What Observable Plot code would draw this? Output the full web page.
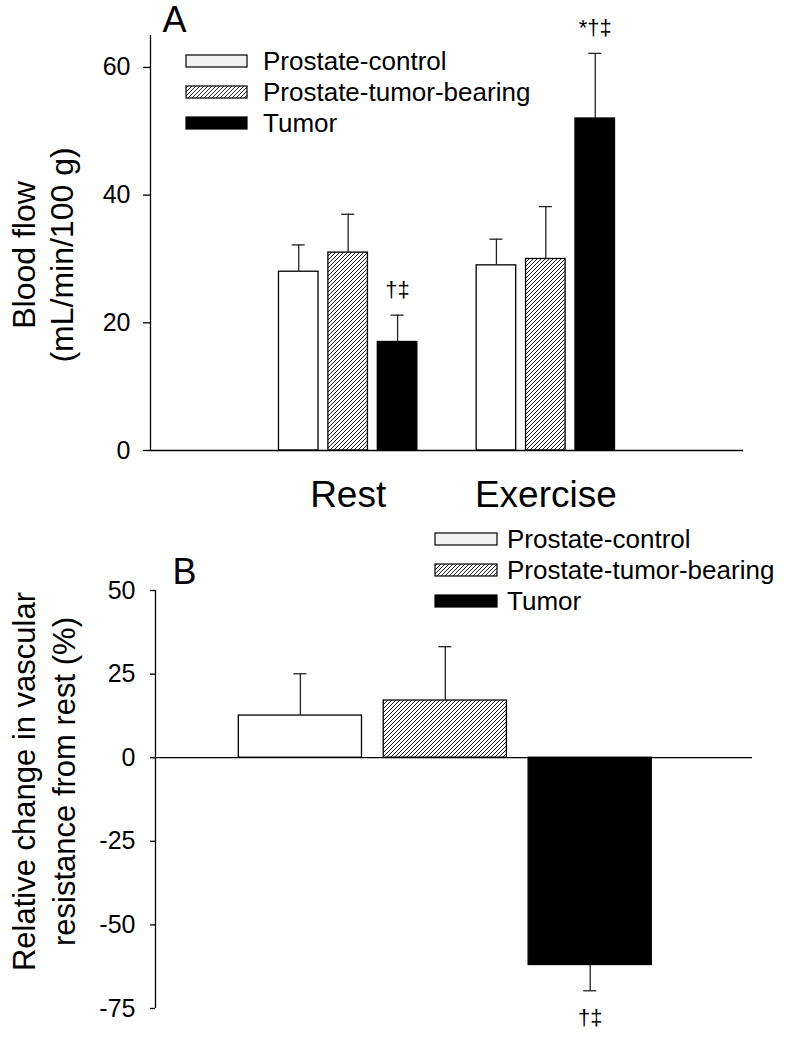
<!DOCTYPE html>
<html><head><meta charset="utf-8">
<script src="https://cdn.jsdelivr.net/npm/d3@7"></script>
<script src="https://cdn.jsdelivr.net/npm/@observablehq/plot@0.6"></script>
<style>
body{margin:0;background:#fff;}
#page{position:relative;width:790px;height:1041px;font-family:"Liberation Sans",Arial,sans-serif;overflow:hidden;background:#fff}
.panel{position:absolute;left:0}
.legend{position:absolute;font-size:26px;color:#000;line-height:31px}
.legend .item{display:flex;align-items:center;height:31px;white-space:nowrap}
.legend .item svg{display:block}
</style></head><body>
<svg width="0" height="0" style="position:absolute"><defs>
<pattern id="hatch" patternUnits="userSpaceOnUse" width="4" height="4">
<rect width="4" height="4" fill="white"/>
<path d="M-1,1 l2,-2 M0,4 l4,-4 M3,5 l2,-2" stroke="black" stroke-width="0.9"/>
</pattern></defs></svg>
<div id="page"></div>
<script>
// ---------- data ----------
const groups = ["Rest", "Exercise"];
const series = ["Prostate-control", "Prostate-tumor-bearing", "Tumor"];
const restMean = [28, 31, 17];
const restSem = [4.2, 6.0, 4.2];
const exerciseMean = [29, 30, 52];
const exerciseSem = [4.1, 8.2, 10.2];
const restNotes = ["", "", "†‡"];
const exerciseNotes = ["", "", "*†‡"];
const yTicksA = [0, 20, 40, 60];
const yLabelA = ["Blood flow", "(mL/min/100 g)"];

const changeMean = [12.6, 17.1, -62.0];
const changeSem = [12.5, 16.1, 7.7];
const changeNotes = ["", "", "†‡"];
const yTicksB = [-75, -50, -25, 0, 25, 50];
const yLabelB = ["Relative change in vascular", "resistance from rest (%)"];

const fills = {"Prostate-control": "white", "Prostate-tumor-bearing": "url(#hatch)", "Tumor": "black"};
const swatchFills = {"Prostate-control": "#f2f2f2", "Prostate-tumor-bearing": "url(#hatch)", "Tumor": "black"};
const font = "Liberation Sans, Arial, sans-serif";

// ---------- panel A ----------
const rowsA = [];
[[restMean, restSem, restNotes], [exerciseMean, exerciseSem, exerciseNotes]].forEach(([m, s, n], gi) =>
  series.forEach((name, si) => rowsA.push({group: groups[gi], series: name, pos: gi + 1 + (si - 1) * 0.25, mean: m[si], top: m[si] + s[si], note: n[si]}))
);
const halfA = 0.1, capA = 0.033;

const plotA = Plot.plot({
  width: 790, height: 520,
  marginLeft: 150, marginRight: 47, marginTop: 35, marginBottom: 70,
  style: {fontFamily: font, color: "black", background: "white"},
  x: {domain: [0, 3], axis: null},
  y: {domain: [0, 65], axis: null},
  marks: [
    ...series.map(s => Plot.rectY(rowsA.filter(d => d.series === s), {
      x1: d => d.pos - halfA, x2: d => d.pos + halfA, y1: 0, y2: "mean",
      fill: fills[s], stroke: "black", strokeWidth: 1.3
    })),
    Plot.ruleX(rowsA, {x: "pos", y1: "mean", y2: "top", stroke: "#222", strokeWidth: 1.3}),
    Plot.ruleY(rowsA, {y: "top", x1: d => d.pos - capA, x2: d => d.pos + capA, stroke: "#222", strokeWidth: 1.3}),
    Plot.text(rowsA.filter(d => d.note), {x: "pos", y: "top", text: "note", dy: -25, fontSize: 22}),
    Plot.ruleX([0], {stroke: "black", strokeWidth: 1.3}),
    Plot.ruleY([0], {stroke: "black", strokeWidth: 1.3}),
    Plot.axisY(yTicksA, {tickSize: 7, tickPadding: 13, fontSize: 25, tickFormat: d => String(d), label: null, strokeWidth: 1.3}),
    Plot.axisX([1, 2], {tickSize: 0, tickPadding: 30, fontSize: 37, tickFormat: d => groups[d - 1], label: null}),
    Plot.text([yLabelA.join("\n")], {text: d => d, frameAnchor: "left", rotate: -90, dx: -109, dy: 12, fontSize: 32, lineHeight: 1.19, lineAnchor: "middle", textAnchor: "middle"}),
    Plot.text(["A"], {text: d => d, frameAnchor: "top-left", dx: 12, dy: -4, lineAnchor: "bottom", textAnchor: "start", fontSize: 36})
  ]
});

// ---------- panel B ----------
const rowsB = series.map((name, si) => ({
  series: name, pos: si + 1, mean: changeMean[si],
  end: changeMean[si] + Math.sign(changeMean[si]) * changeSem[si], note: changeNotes[si]
}));
const halfB = 0.425, capB = 0.045;

const plotB = Plot.plot({
  width: 790, height: 521,
  marginLeft: 155, marginRight: 38, marginTop: 70, marginBottom: 33,
  style: {fontFamily: font, color: "black", background: "white"},
  x: {domain: [0, 4.12], axis: null},
  y: {domain: [-75, 50], axis: null},
  marks: [
    ...series.map(s => Plot.rectY(rowsB.filter(d => d.series === s), {
      x1: d => d.pos - halfB, x2: d => d.pos + halfB, y1: 0, y2: "mean",
      fill: fills[s], stroke: "black", strokeWidth: 1.3
    })),
    Plot.ruleX(rowsB, {x: "pos", y1: "mean", y2: "end", stroke: "#222", strokeWidth: 1.3}),
    Plot.ruleY(rowsB, {y: "end", x1: d => d.pos - capB, x2: d => d.pos + capB, stroke: "#222", strokeWidth: 1.3}),
    Plot.text(rowsB.filter(d => d.note), {x: "pos", y: "end", text: "note", dy: 27, fontSize: 22}),
    Plot.ruleX([0], {stroke: "black", strokeWidth: 1.3}),
    Plot.ruleY([0], {stroke: "black", strokeWidth: 1.3}),
    Plot.axisY(yTicksB, {tickSize: 5, tickPadding: 15, fontSize: 25, tickFormat: d => String(d), label: null, strokeWidth: 1.3}),
    Plot.text([yLabelB.join("\n")], {text: d => d, frameAnchor: "left", rotate: -90, dx: -113, dy: -18, fontSize: 31, lineHeight: 1.29, lineAnchor: "middle", textAnchor: "middle"}),
    Plot.text(["B"], {text: d => d, frameAnchor: "top-left", dx: 17, dy: -7, lineAnchor: "bottom", textAnchor: "start", fontSize: 36})
  ]
});

// ---------- layout ----------
const page = document.getElementById("page");
function place(el, top) { const d = document.createElement("div"); d.className = "panel"; d.style.top = top + "px"; d.appendChild(el); page.appendChild(d); }
place(plotA, 0);
place(plotB, 520);

function legend(left, top, swW, gap) {
  const L = document.createElement("div");
  L.className = "legend";
  L.style.left = left + "px"; L.style.top = top + "px";
  series.forEach(s => {
    const it = document.createElement("div"); it.className = "item";
    const ns = "http://www.w3.org/2000/svg";
    const sv = document.createElementNS(ns, "svg");
    sv.setAttribute("width", swW + 2); sv.setAttribute("height", 14);
    sv.style.marginRight = gap + "px";
    const r = document.createElementNS(ns, "rect");
    r.setAttribute("x", 1); r.setAttribute("y", 1); r.setAttribute("width", swW); r.setAttribute("height", 12);
    r.setAttribute("fill", swatchFills[s]); r.setAttribute("stroke", "black"); r.setAttribute("stroke-width", 1.2);
    sv.appendChild(r); it.appendChild(sv);
    const t = document.createElement("span"); t.textContent = s; it.appendChild(t);
    L.appendChild(it);
  });
  page.appendChild(L);
}
legend(185, 45.5, 61, 15);
legend(434, 523.5, 62, 9);
</script>
</body></html>
